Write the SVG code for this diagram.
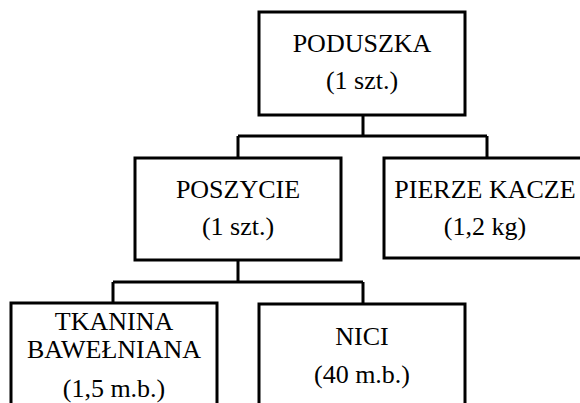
<svg xmlns="http://www.w3.org/2000/svg" width="580" height="403" viewBox="0 0 580 403">
<style>
.box{fill:#fff;stroke:#000;stroke-width:3}
.con{fill:none;stroke:#000;stroke-width:3}
text{font-family:"Liberation Serif","Times New Roman",serif;font-size:26px;fill:#000;text-anchor:middle}
</style>
<rect width="580" height="403" fill="#fff"/>
<g id="connectors">
<path class="con" d="M363 115V136M238 136H487M238 136V158M487 136V158"/>
<path class="con" d="M238 260V282M113 282H363M113 282V303M363 282V303"/>
</g>
<g id="poduszka">
<rect class="box" x="259" y="12" width="206" height="103"/>
<text x="362" y="52">PODUSZKA</text>
<text x="362" y="89">(1 szt.)</text>
</g>
<g id="poszycie">
<rect class="box" x="135" y="158" width="206" height="102"/>
<text x="238" y="198">POSZYCIE</text>
<text x="238" y="235">(1 szt.)</text>
</g>
<g id="pierze">
<rect class="box" x="384" y="158" width="206" height="100"/>
<text x="485" y="198">PIERZE KACZE</text>
<text x="485" y="235">(1,2 kg)</text>
</g>
<g id="tkanina">
<rect class="box" x="11" y="303" width="206" height="110"/>
<text x="114" y="330">TKANINA</text>
<text x="114" y="358">BAWEŁNIANA</text>
<text x="114" y="397">(1,5 m.b.)</text>
</g>
<g id="nici">
<rect class="box" x="259" y="304" width="206" height="110"/>
<text x="362" y="345">NICI</text>
<text x="362" y="383">(40 m.b.)</text>
</g>
</svg>
